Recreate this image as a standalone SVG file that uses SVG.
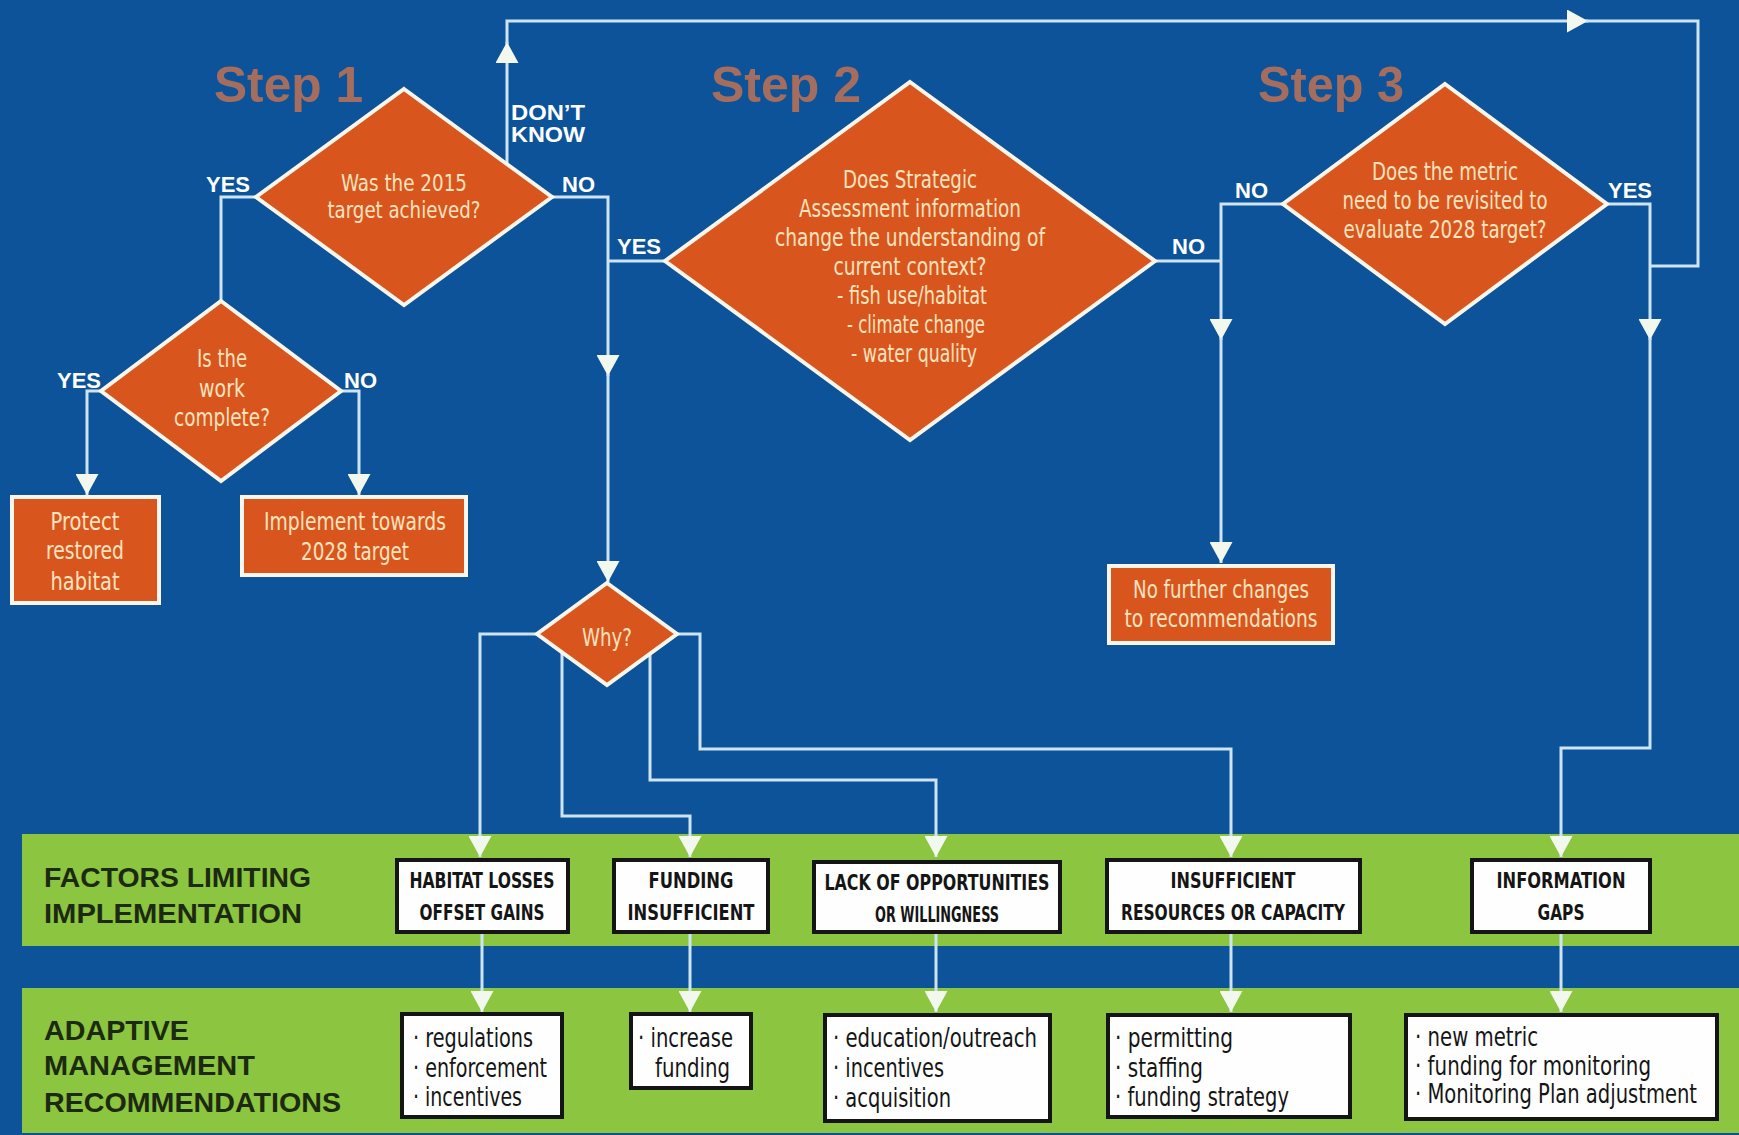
<svg xmlns="http://www.w3.org/2000/svg" width="1739" height="1135" viewBox="0 0 1739 1135">
<style>
.bg{fill:#0c5399}
.band{fill:#8cc53f}
.dia{fill:#d8561e;stroke:#fbf6ec;stroke-width:4}
.obox{fill:#d8561e;stroke:#fbf6ec;stroke-width:4}
.wbox{fill:#fefefe;stroke:#151515;stroke-width:4}
.ot{font-family:"Liberation Sans Narrow","DejaVu Sans Condensed","Liberation Sans",sans-serif;fill:#fde3bf;text-anchor:middle}
.lbl{font-family:"Liberation Sans",Arial,sans-serif;font-weight:bold;fill:#ffffff;font-size:22px}
.step{font-family:"Liberation Sans",Arial,sans-serif;font-weight:bold;fill:#a46d5e;font-size:50px}
.bt{font-family:"Liberation Sans",Arial,sans-serif;font-weight:bold;fill:#1d2a12;font-size:28px}
.ft{font-family:"Liberation Sans Narrow","DejaVu Sans Condensed","Liberation Sans",sans-serif;font-weight:bold;fill:#151515;font-size:22px;text-anchor:middle}
.rt{font-family:"Liberation Sans Narrow","DejaVu Sans Condensed","Liberation Sans",sans-serif;fill:#151515;font-size:27px}
.conn{fill:none;stroke:#cde4f6;stroke-width:3}
</style>
<defs>
<marker id="ah" markerUnits="userSpaceOnUse" markerWidth="22" markerHeight="23" viewBox="0 0 22 23" refX="21" refY="11.5" orient="auto">
<path d="M0,0 L21,11.5 L0,23 z" fill="#f3f8ee"/>
</marker>
</defs>
<rect class="bg" x="0" y="0" width="1739" height="1135"/>
<g id="band-factors">
<rect class="band" x="22" y="834" width="1717" height="112"/>
<text class="bt" x="44" y="887" textLength="267" lengthAdjust="spacingAndGlyphs">FACTORS LIMITING</text>
<text class="bt" x="44" y="923" textLength="258" lengthAdjust="spacingAndGlyphs">IMPLEMENTATION</text>
</g>
<g id="band-recommendations">
<rect class="band" x="22" y="988" width="1717" height="145"/>
<text class="bt" x="44" y="1040" textLength="145" lengthAdjust="spacingAndGlyphs">ADAPTIVE</text>
<text class="bt" x="44" y="1075" textLength="211" lengthAdjust="spacingAndGlyphs">MANAGEMENT</text>
<text class="bt" x="44" y="1112" textLength="297" lengthAdjust="spacingAndGlyphs">RECOMMENDATIONS</text>
</g>
<g id="step-titles">
<text class="step" x="214" y="102" textLength="149" lengthAdjust="spacingAndGlyphs">Step 1</text>
<text class="step" x="711" y="102" textLength="150" lengthAdjust="spacingAndGlyphs">Step 2</text>
<text class="step" x="1258" y="102" textLength="146" lengthAdjust="spacingAndGlyphs">Step 3</text>
</g>
<g id="connectors">
<path class="conn" d="M256,197 H221 V301"/>
<path class="conn" d="M101,391 H87 V495" marker-end="url(#ah)"/>
<path class="conn" d="M341,391 H359 V495" marker-end="url(#ah)"/>
<path class="conn" d="M507,163 V42" marker-end="url(#ah)"/>
<path class="conn" d="M507,44 V21 H1588" marker-end="url(#ah)"/>
<path class="conn" d="M1586,21 H1698 V266 H1650"/>
<path class="conn" d="M552,197 H608 V376" marker-end="url(#ah)"/>
<path class="conn" d="M608,374 V582" marker-end="url(#ah)"/>
<path class="conn" d="M608,261 H665"/>
<path class="conn" d="M1155,261 H1221"/>
<path class="conn" d="M1283,204 H1221 V340" marker-end="url(#ah)"/>
<path class="conn" d="M1221,338 V563" marker-end="url(#ah)"/>
<path class="conn" d="M1607,204 H1650 V340" marker-end="url(#ah)"/>
<path class="conn" d="M1650,338 V748 H1561 V857" marker-end="url(#ah)"/>
<path class="conn" d="M537,634 H480 V857" marker-end="url(#ah)"/>
<path class="conn" d="M562,653 V816 H690 V857" marker-end="url(#ah)"/>
<path class="conn" d="M650,654 V780 H936 V857" marker-end="url(#ah)"/>
<path class="conn" d="M677,634 H700 V749 H1231 V857" marker-end="url(#ah)"/>
<path class="conn" d="M482,932 V1012" marker-end="url(#ah)"/>
<path class="conn" d="M690,932 V1012" marker-end="url(#ah)"/>
<path class="conn" d="M936,932 V1012" marker-end="url(#ah)"/>
<path class="conn" d="M1231,932 V1012" marker-end="url(#ah)"/>
<path class="conn" d="M1561,932 V1012" marker-end="url(#ah)"/>
<text class="lbl" x="206" y="192">YES</text>
<text class="lbl" x="562" y="192">NO</text>
<text class="lbl" x="511" y="120" textLength="74" lengthAdjust="spacingAndGlyphs">DON’T</text>
<text class="lbl" x="511" y="142" textLength="74" lengthAdjust="spacingAndGlyphs">KNOW</text>
<text class="lbl" x="57" y="388">YES</text>
<text class="lbl" x="344" y="388">NO</text>
<text class="lbl" x="617" y="254">YES</text>
<text class="lbl" x="1172" y="254">NO</text>
<text class="lbl" x="1235" y="198">NO</text>
<text class="lbl" x="1608" y="198">YES</text>
</g>
<g id="q-2015-target">
<polygon class="dia" points="404,89 552,197 404,305 256,197"/>
<text class="ot" font-size="23" x="404" y="191" textLength="126" lengthAdjust="spacingAndGlyphs">Was the 2015</text>
<text class="ot" font-size="23" x="404" y="218" textLength="153" lengthAdjust="spacingAndGlyphs">target achieved?</text>
</g>
<g id="q-work-complete">
<polygon class="dia" points="221,301 341,391 221,481 101,391"/>
<text class="ot" font-size="24" x="222" y="367" textLength="50" lengthAdjust="spacingAndGlyphs">Is the</text>
<text class="ot" font-size="24" x="222" y="397" textLength="46" lengthAdjust="spacingAndGlyphs">work</text>
<text class="ot" font-size="24" x="222" y="426" textLength="96" lengthAdjust="spacingAndGlyphs">complete?</text>
</g>
<g id="protect-habitat">
<rect class="obox" x="12" y="497" width="147" height="106"/>
<text class="ot" font-size="25" x="85" y="530" textLength="69" lengthAdjust="spacingAndGlyphs">Protect</text>
<text class="ot" font-size="25" x="85" y="559" textLength="78" lengthAdjust="spacingAndGlyphs">restored</text>
<text class="ot" font-size="25" x="85" y="590" textLength="69" lengthAdjust="spacingAndGlyphs">habitat</text>
</g>
<g id="implement-2028">
<rect class="obox" x="242" y="497" width="224" height="78"/>
<text class="ot" font-size="25" x="355" y="530" textLength="182" lengthAdjust="spacingAndGlyphs">Implement towards</text>
<text class="ot" font-size="25" x="355" y="560" textLength="108" lengthAdjust="spacingAndGlyphs">2028 target</text>
</g>
<g id="q-strategic-assessment">
<polygon class="dia" points="910,82 1155,261 910,440 665,261"/>
<text class="ot" font-size="25" x="910" y="188" textLength="134" lengthAdjust="spacingAndGlyphs">Does Strategic</text>
<text class="ot" font-size="25" x="910" y="217" textLength="222" lengthAdjust="spacingAndGlyphs">Assessment information</text>
<text class="ot" font-size="25" x="910" y="246" textLength="270" lengthAdjust="spacingAndGlyphs">change the understanding of</text>
<text class="ot" font-size="25" x="910" y="275" textLength="153" lengthAdjust="spacingAndGlyphs">current context?</text>
<text class="ot" font-size="25" x="912" y="304" textLength="150" lengthAdjust="spacingAndGlyphs">- fish use/habitat</text>
<text class="ot" font-size="25" x="916" y="333" textLength="138" lengthAdjust="spacingAndGlyphs">- climate change</text>
<text class="ot" font-size="25" x="914" y="362" textLength="126" lengthAdjust="spacingAndGlyphs">- water quality</text>
</g>
<g id="q-metric-revisit">
<polygon class="dia" points="1445,84 1607,204 1445,324 1283,204"/>
<text class="ot" font-size="24" x="1445" y="180" textLength="146" lengthAdjust="spacingAndGlyphs">Does the metric</text>
<text class="ot" font-size="24" x="1445" y="209" textLength="205" lengthAdjust="spacingAndGlyphs">need to be revisited to</text>
<text class="ot" font-size="24" x="1445" y="238" textLength="203" lengthAdjust="spacingAndGlyphs">evaluate 2028 target?</text>
</g>
<g id="no-further-changes">
<rect class="obox" x="1109" y="566" width="224" height="77"/>
<text class="ot" font-size="25" x="1221" y="598" textLength="176" lengthAdjust="spacingAndGlyphs">No further changes</text>
<text class="ot" font-size="25" x="1221" y="627" textLength="193" lengthAdjust="spacingAndGlyphs">to recommendations</text>
</g>
<g id="q-why">
<polygon class="dia" points="607,583 677,634 607,685 537,634"/>
<text class="ot" font-size="24" x="607" y="646" textLength="50" lengthAdjust="spacingAndGlyphs">Why?</text>
</g>
<g id="f-habitat-losses">
<rect class="wbox" x="397" y="860" width="171" height="72"/>
<text class="ft" x="482" y="888" textLength="145" lengthAdjust="spacingAndGlyphs">HABITAT LOSSES</text>
<text class="ft" x="482" y="920" textLength="125" lengthAdjust="spacingAndGlyphs">OFFSET GAINS</text>
</g>
<g id="f-funding">
<rect class="wbox" x="614" y="860" width="154" height="72"/>
<text class="ft" x="691" y="888" textLength="85" lengthAdjust="spacingAndGlyphs">FUNDING</text>
<text class="ft" x="691" y="920" textLength="127" lengthAdjust="spacingAndGlyphs">INSUFFICIENT</text>
</g>
<g id="f-opportunities">
<rect class="wbox" x="814" y="862" width="246" height="70"/>
<text class="ft" x="937" y="890" textLength="225" lengthAdjust="spacingAndGlyphs">LACK OF OPPORTUNITIES</text>
<text class="ft" x="937" y="922" textLength="124" lengthAdjust="spacingAndGlyphs">OR WILLINGNESS</text>
</g>
<g id="f-resources">
<rect class="wbox" x="1107" y="860" width="253" height="72"/>
<text class="ft" x="1233" y="888" textLength="125" lengthAdjust="spacingAndGlyphs">INSUFFICIENT</text>
<text class="ft" x="1233" y="920" textLength="224" lengthAdjust="spacingAndGlyphs">RESOURCES OR CAPACITY</text>
</g>
<g id="f-information">
<rect class="wbox" x="1472" y="860" width="178" height="72"/>
<text class="ft" x="1561" y="888" textLength="129" lengthAdjust="spacingAndGlyphs">INFORMATION</text>
<text class="ft" x="1561" y="920" textLength="47" lengthAdjust="spacingAndGlyphs">GAPS</text>
</g>
<g id="r-habitat">
<rect class="wbox" x="402" y="1014" width="160" height="103"/>
<text class="rt" x="413" y="1047" textLength="120" lengthAdjust="spacingAndGlyphs">· regulations</text>
<text class="rt" x="413" y="1077" textLength="134" lengthAdjust="spacingAndGlyphs">· enforcement</text>
<text class="rt" x="413" y="1106" textLength="109" lengthAdjust="spacingAndGlyphs">· incentives</text>
</g>
<g id="r-funding">
<rect class="wbox" x="631" y="1014" width="120" height="74"/>
<text class="rt" x="638" y="1047" textLength="95" lengthAdjust="spacingAndGlyphs">· increase</text>
<text class="rt" x="655" y="1077" textLength="75" lengthAdjust="spacingAndGlyphs">funding</text>
</g>
<g id="r-opportunities">
<rect class="wbox" x="825" y="1015" width="225" height="106"/>
<text class="rt" x="833" y="1047" textLength="204" lengthAdjust="spacingAndGlyphs">· education/outreach</text>
<text class="rt" x="833" y="1077" textLength="111" lengthAdjust="spacingAndGlyphs">· incentives</text>
<text class="rt" x="833" y="1107" textLength="118" lengthAdjust="spacingAndGlyphs">· acquisition</text>
</g>
<g id="r-resources">
<rect class="wbox" x="1108" y="1015" width="242" height="102"/>
<text class="rt" x="1115" y="1047" textLength="118" lengthAdjust="spacingAndGlyphs">· permitting</text>
<text class="rt" x="1115" y="1077" textLength="88" lengthAdjust="spacingAndGlyphs">· staffing</text>
<text class="rt" x="1115" y="1106" textLength="174" lengthAdjust="spacingAndGlyphs">· funding strategy</text>
</g>
<g id="r-information">
<rect class="wbox" x="1406" y="1015" width="311" height="104"/>
<text class="rt" x="1415" y="1046" font-size="26" textLength="123" lengthAdjust="spacingAndGlyphs">· new metric</text>
<text class="rt" x="1415" y="1075" font-size="26" textLength="236" lengthAdjust="spacingAndGlyphs">· funding for monitoring</text>
<text class="rt" x="1415" y="1103" font-size="26" textLength="282" lengthAdjust="spacingAndGlyphs">· Monitoring Plan adjustment</text>
</g>
</svg>
